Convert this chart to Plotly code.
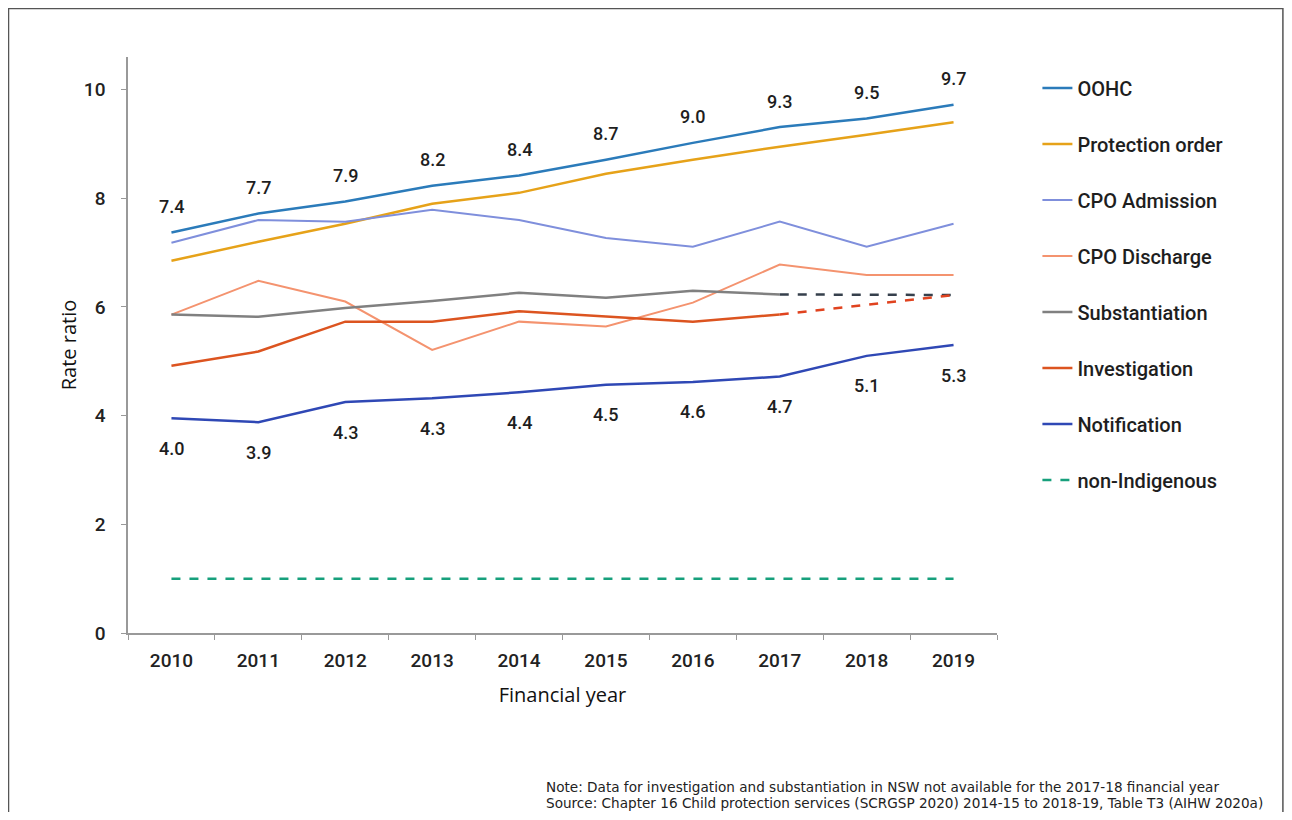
import plotly.graph_objects as go

years = ["2010", "2011", "2012", "2013", "2014", "2015", "2016", "2017", "2018", "2019"]

oohc = [7.37, 7.72, 7.94, 8.23, 8.42, 8.71, 9.02, 9.31, 9.47, 9.72]
oohc_labels = ["7.4", "7.7", "7.9", "8.2", "8.4", "8.7", "9.0", "9.3", "9.5", "9.7"]
protection = [6.85, 7.20, 7.53, 7.90, 8.10, 8.45, 8.71, 8.95, 9.17, 9.40]
cpo_admission = [7.18, 7.60, 7.57, 7.79, 7.60, 7.27, 7.11, 7.57, 7.11, 7.53]
cpo_discharge = [5.86, 6.48, 6.10, 5.21, 5.73, 5.64, 6.08, 6.78, 6.59, 6.59]
substantiation = [5.86, 5.82, 5.98, 6.11, 6.26, 6.17, 6.30, 6.23, None, None]
substantiation_gap = [None, None, None, None, None, None, None, 6.23, None, 6.22]
investigation = [4.92, 5.18, 5.73, 5.73, 5.92, 5.82, 5.73, 5.86, None, None]
investigation_gap = [None, None, None, None, None, None, None, 5.86, None, 6.22]
notification = [3.95, 3.88, 4.25, 4.32, 4.43, 4.57, 4.62, 4.72, 5.10, 5.30]
notification_labels = ["4.0", "3.9", "4.3", "4.3", "4.4", "4.5", "4.6", "4.7", "5.1", "5.3"]
non_indigenous = [1.0, 1.0, 1.0, 1.0, 1.0, 1.0, 1.0, 1.0, 1.0, 1.0]

note_lines = [
    "Note: Data for investigation and substantiation in NSW not available for the 2017-18 financial year",
    "Source: Chapter 16 Child protection services (SCRGSP 2020) 2014-15 to 2018-19, Table T3 (AIHW 2020a)",
]

series = [
    ("OOHC", oohc, "#2b7bba", 2.5, "solid"),
    ("Protection order", protection, "#e6a219", 2.5, "solid"),
    ("CPO Admission", cpo_admission, "#7f8fdc", 2, "solid"),
    ("CPO Discharge", cpo_discharge, "#f4936f", 2, "solid"),
    ("Substantiation", substantiation, "#808080", 2.5, "solid"),
    ("Investigation", investigation, "#dc5420", 2.5, "solid"),
    ("Notification", notification, "#2f48b5", 2.5, "solid"),
    ("non-Indigenous", non_indigenous, "#17a07c", 2.5, "dash"),
]

fig = go.Figure()
for i, (name, vals, color, width, dash) in enumerate(series):
    fig.add_trace(go.Scatter(
        x=years, y=vals, name=name, mode="lines",
        line=dict(color=color, width=width, dash=dash),
        legendgroup=f"g{i}", connectgaps=False,
    ))

fig.add_trace(go.Scatter(
    x=years, y=substantiation_gap, mode="lines", showlegend=False,
    line=dict(color="#36404c", width=2.5, dash="dash"), connectgaps=True,
))
fig.add_trace(go.Scatter(
    x=years, y=investigation_gap, mode="lines", showlegend=False,
    line=dict(color="#e0431f", width=2.5, dash="dash"), connectgaps=True,
))

label_font = dict(family="Roboto", size=18, color="#1e1e1e", weight=500)
for i, (y, t) in enumerate(zip(oohc, oohc_labels)):
    fig.add_annotation(x=i, y=y, text=t, showarrow=False, yshift=26, font=label_font)
for i, (y, t) in enumerate(zip(notification, notification_labels)):
    fig.add_annotation(x=i, y=y, text=t, showarrow=False, yshift=-30, font=label_font)

for k, line in enumerate(note_lines):
    fig.add_annotation(
        xref="paper", yref="paper", x=0.479, y=-0.2674 - 0.0277 * k,
        xanchor="left", yanchor="middle", align="left", showarrow=False,
        text=line, font=dict(family="DejaVu Sans", size=13.6, color="#222"),
    )

fig.add_shape(type="rect", xref="paper", yref="paper",
              x0=-0.1375, x1=1.329, y0=-0.4, y1=1.084,
              line=dict(color="#555", width=1.5), fillcolor="rgba(0,0,0,0)")

fig.update_layout(
    width=1276, height=804,
    margin=dict(l=120, r=287, t=49, b=179),
    paper_bgcolor="white", plot_bgcolor="white",
    font=dict(family="Roboto", color="#222"),
    showlegend=True,
    legend=dict(
        x=1.0465, y=0.98, xanchor="left", yanchor="top",
        font=dict(family="Roboto", size=20, color="#1e1e1e", weight=500),
        tracegroupgap=27, bgcolor="rgba(0,0,0,0)",
    ),
    xaxis=dict(
        type="category", range=[-0.5, 9.5], tickson="boundaries", ticks="outside", ticklen=5,
        tickcolor="#999", showline=True, linecolor="#999", linewidth=1.5,
        showgrid=False, zeroline=False, tickangle=0,
        tickfont=dict(family="Roboto", size=19, color="#222", weight=500),
        ticklabelstandoff=9,
        title=dict(text="Financial year", font=dict(family="Open Sans", size=20, color="#111"), standoff=17),
    ),
    yaxis=dict(
        range=[0, 10.6], tickvals=[0, 2, 4, 6, 8, 10], ticks="outside", ticklen=5,
        tickcolor="#999", showline=True, linecolor="#999", linewidth=1.5,
        showgrid=False, zeroline=False,
        tickfont=dict(family="Roboto", size=19, color="#222", weight=500),
        ticklabelstandoff=12,
        title=dict(text="Rate ratio", font=dict(family="Open Sans", size=20, color="#111"), standoff=2),
    ),
)

fig.write_html("out.html")
